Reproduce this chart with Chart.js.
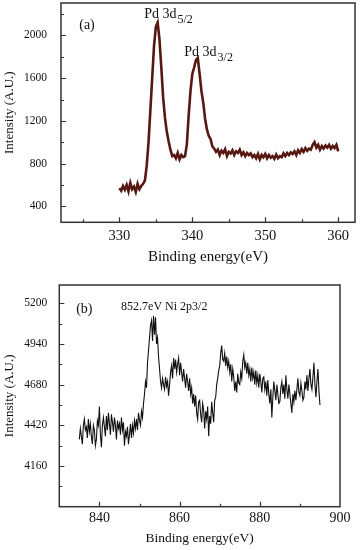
<!DOCTYPE html>
<html>
<head>
<meta charset="utf-8">
<script src="https://cdn.jsdelivr.net/npm/chart.js@4.4.1/dist/chart.umd.min.js"></script>
<style>
  html, body { margin: 0; padding: 0; background: #fff; }
  #wrap { position: relative; width: 360px; height: 550px; }
  canvas { position: absolute; left: 0; }
  #chartA { top: 0; }
  #chartB { top: 270px; }
</style>
</head>
<body>
<div id="wrap">
  <canvas id="chartA" width="360" height="270"></canvas>
  <canvas id="chartB" width="360" height="280"></canvas>
</div>
<script>
// Panel (a): Pd 3d region, sampled every 0.25 eV from 330 eV
const energyStartA = 330;
const energyStepA = 0.25;
const intensityA = [
    570, 545, 590, 555, 600, 540, 620, 560, 585, 535, 610, 560, 590, 610, 640, 780,
    1000, 1300, 1600, 1900, 2080, 2120, 1960, 1700, 1420, 1230, 1100, 1010, 930, 870,
    880, 850, 900, 840, 880, 860, 870, 980, 1250, 1480, 1640, 1700, 1770, 1790, 1640,
    1480, 1370, 1220, 1120, 1060, 1030, 960, 940, 910, 930, 880, 920, 900, 935, 870,
    910, 895, 925, 880, 915, 900, 930, 880, 905, 870, 900, 880, 895, 860, 880, 850,
    890, 840, 880, 860, 890, 850, 880, 855, 870, 845, 885, 850, 870, 860, 895, 870,
    900, 880, 905, 890, 915, 880, 925, 900, 935, 910, 945, 920, 940, 930, 975, 1000,
    950, 975, 930, 965, 940, 970, 950, 975, 940, 965, 945, 975, 915
];
const xTicksA = [330, 340, 350, 360];
const xMinorA = [325, 335, 345, 355];
const yTicksA = [400, 800, 1200, 1600, 2000];
const yMinorA = [600, 1000, 1400, 1800, 2200];

// Panel (b): Ni 2p region, sampled every 0.25 eV from 835 eV
const energyStartB = 835;
const energyStepB = 0.25;
const intensityB = [
    4330, 4400, 4350, 4300, 4420, 4460, 4390, 4410,
    4340, 4460, 4380, 4430, 4350, 4300, 4420, 4390,
    4290, 4330, 4450, 4420, 4540, 4360, 4280, 4420,
    4470, 4410, 4350, 4480, 4390, 4500, 4430, 4360,
    4490, 4440, 4380, 4470, 4420, 4330, 4450, 4400,
    4430, 4360, 4470, 4390, 4440, 4290, 4380, 4350,
    4410, 4300, 4360, 4430, 4340, 4420, 4370, 4450,
    4400, 4460, 4390, 4500, 4450, 4420, 4510, 4470,
    4560, 4620, 4700, 4660, 4820, 4900, 4980, 5060,
    5090, 4960, 5120, 5000, 5110, 4940, 4980, 4860,
    4780, 4700, 4660, 4720, 4680, 4650, 4730, 4670,
    4700, 4610, 4680, 4760, 4800, 4720, 4850, 4780,
    4840, 4760, 4810, 4850, 4740, 4820, 4760, 4700,
    4780, 4720, 4660, 4750, 4700, 4640, 4720, 4620,
    4660, 4560, 4620, 4540, 4610, 4500, 4460, 4570,
    4580, 4490, 4440, 4560, 4520, 4400, 4510, 4460,
    4540, 4350, 4480, 4430, 4570, 4500, 4440, 4580,
    4600, 4680, 4720, 4770, 4800, 4880, 4930, 4840,
    4830, 4880, 4800, 4860, 4790, 4830, 4760, 4810,
    4700, 4780, 4730, 4640, 4700, 4630, 4750, 4690,
    4680, 4760, 4720, 4830, 4870, 4790, 4820, 4750,
    4820, 4740, 4780, 4700, 4790, 4720, 4760, 4680,
    4770, 4690, 4740, 4660, 4750, 4700, 4630, 4720,
    4730, 4650, 4700, 4610, 4710, 4620, 4560, 4650,
    4470, 4600, 4700, 4640, 4580, 4680, 4620, 4560,
    4570, 4660, 4700, 4620, 4680, 4590, 4740, 4650,
    4590, 4680, 4620, 4560, 4500, 4620, 4570, 4640,
    4580, 4650, 4720, 4630, 4610, 4690, 4640, 4580,
    4600, 4700, 4650, 4740, 4640, 4720, 4780, 4680,
    4650, 4730, 4820, 4680, 4600, 4700, 4780, 4640,
    4550
];
const xTicksB = [840, 860, 880, 900];
const xMinorB = [850, 870, 890];
const yTicksB = [4160, 4420, 4680, 4940, 5200];
const yMinorB = [4030, 4290, 4550, 4810, 5070];

const FONT = '"Liberation Serif", "Times New Roman", serif';

// Utility: pair the energy grid with the intensities
const toPoints = (start, step, values) => values.map((v, i) => ({ x: start + i * step, y: v }));

// Box frame with inward major/minor ticks on the bottom and left axes
const framePlugin = {
    id: 'frame',
    afterDraw(chart, args, opts) {
        const { ctx, chartArea: a, scales: { x, y } } = chart;
        ctx.save();
        ctx.strokeStyle = '#333';
        ctx.lineWidth = 1.2;
        ctx.beginPath();
        const xMark = (v, len) => {
            const px = Math.round(x.getPixelForValue(v)) + 0.5;
            if (px < a.left || px > a.right) return;
            ctx.moveTo(px, a.bottom);
            ctx.lineTo(px, a.bottom - len);
        };
        const yMark = (v, len) => {
            const py = Math.round(y.getPixelForValue(v)) + 0.5;
            if (py < a.top || py > a.bottom) return;
            ctx.moveTo(a.left, py);
            ctx.lineTo(a.left + len, py);
        };
        opts.xMajor.forEach(v => xMark(v, 5));
        opts.xMinor.forEach(v => xMark(v, 3));
        opts.yMajor.forEach(v => yMark(v, 5));
        opts.yMinor.forEach(v => yMark(v, 3));
        ctx.stroke();
        ctx.lineWidth = 1.5;
        ctx.strokeRect(a.left, a.top, a.right - a.left, a.bottom - a.top);
        ctx.restore();
    }
};

// Text labels anchored at data coordinates
const notePlugin = {
    id: 'notes',
    afterDatasetsDraw(chart, args, opts) {
        const { ctx, scales: { x, y } } = chart;
        ctx.save();
        ctx.fillStyle = '#111';
        ctx.textBaseline = 'alphabetic';
        ctx.textAlign = 'left';
        opts.items.forEach(n => {
            const px = x.getPixelForValue(n.x);
            const py = y.getPixelForValue(n.y);
            ctx.font = `${n.size}px ${FONT}`;
            ctx.fillText(n.text, px, py);
            if (n.sub) {
                const w = ctx.measureText(n.text).width;
                ctx.font = `${n.subSize}px ${FONT}`;
                ctx.fillText(n.sub, px + w + 1, py + 5);
            }
        });
        ctx.restore();
    }
};

function makeXpsChart(id, p) {
    return new Chart(document.getElementById(id).getContext('2d'), {
        type: 'line',
        data: {
            datasets: [{
                data: p.points,
                borderColor: p.color,
                borderWidth: p.lineWidth,
                pointRadius: 0,
                tension: 0,
                fill: false
            }]
        },
        options: {
            responsive: false,
            animation: false,
            events: [],
            layout: { padding: p.padding },
            plugins: {
                legend: { display: false },
                tooltip: { enabled: false },
                frame: { xMajor: p.xTicks, xMinor: p.xMinor, yMajor: p.yTicks, yMinor: p.yMinor },
                notes: { items: p.notes }
            },
            scales: {
                x: {
                    type: 'linear',
                    min: p.xMin,
                    max: p.xMax,
                    afterBuildTicks: s => { s.ticks = p.xTicks.map(v => ({ value: v })); },
                    afterFit: s => {
                        s.height = p.xAxisHeight;
                        s.paddingLeft = 0;
                        s.paddingRight = 0;
                    },
                    grid: { display: false, drawTicks: false },
                    border: { display: false },
                    ticks: {
                        color: '#111',
                        padding: p.xTickPad,
                        maxRotation: 0,
                        callback: v => String(v),
                        font: { family: FONT, size: p.xTickSize }
                    },
                    title: {
                        display: true,
                        text: 'Binding energy(eV)',
                        color: '#111',
                        padding: { top: 0, bottom: p.xTitlePad },
                        font: { family: FONT, size: p.xTitleSize }
                    }
                },
                y: {
                    type: 'linear',
                    min: p.yMin,
                    max: p.yMax,
                    afterBuildTicks: s => { s.ticks = p.yTicks.map(v => ({ value: v })); },
                    afterFit: s => {
                        s.width = p.yAxisWidth;
                        s.paddingTop = 0;
                        s.paddingBottom = 0;
                    },
                    grid: { display: false, drawTicks: false },
                    border: { display: false },
                    ticks: {
                        color: '#111',
                        padding: p.yTickPad,
                        callback: v => String(v),
                        font: { family: FONT, size: p.yTickSize }
                    },
                    title: {
                        display: true,
                        text: 'Intensity (A.U.)',
                        color: '#111',
                        padding: { top: 2, bottom: 0 },
                        font: { family: FONT, size: p.yTitleSize }
                    }
                }
            }
        },
        plugins: [framePlugin, notePlugin]
    });
}

makeXpsChart('chartA', {
    points: toPoints(energyStartA, energyStepA, intensityA),
    color: '#561810',
    lineWidth: 2.6,
    xMin: 322, xMax: 362.3, yMin: 250, yMax: 2304,
    xTicks: xTicksA, xMinor: xMinorA, yTicks: yTicksA, yMinor: yMinorA,
    padding: { top: 3, right: 5, left: 0, bottom: 0 },
    xAxisHeight: 47.7, yAxisWidth: 61,
    xTickPad: 5, yTickPad: 14, xTitlePad: 4,
    xTickSize: 14.5, yTickSize: 11.5, xTitleSize: 15, yTitleSize: 13,
    notes: [
        { x: 324.5, y: 2063, text: '(a)', size: 14 },
        { x: 333.4, y: 2166, text: 'Pd 3d', sub: '5/2', size: 14, subSize: 12 },
        { x: 338.9, y: 1810, text: 'Pd 3d', sub: '3/2', size: 14, subSize: 12 }
    ]
});

makeXpsChart('chartB', {
    points: toPoints(energyStartB, energyStepB, intensityB),
    color: '#111',
    lineWidth: 1.1,
    xMin: 830, xMax: 900, yMin: 3900, yMax: 5317,
    xTicks: xTicksB, xMinor: xMinorB, yTicks: yTicksB, yMinor: yMinorB,
    padding: { top: 15, right: 20, left: 0, bottom: 0 },
    xAxisHeight: 43.3, yAxisWidth: 59.3,
    xTickPad: 3, yTickPad: 12, xTitlePad: 3,
    xTickSize: 14, yTickSize: 11.5, xTitleSize: 13.5, yTitleSize: 13,
    notes: [
        { x: 834.2, y: 5140, text: '(b)', size: 14 },
        { x: 845.4, y: 5155, text: '852.7eV Ni 2p3/2', size: 12 }
    ]
});
</script>
</body>
</html>
